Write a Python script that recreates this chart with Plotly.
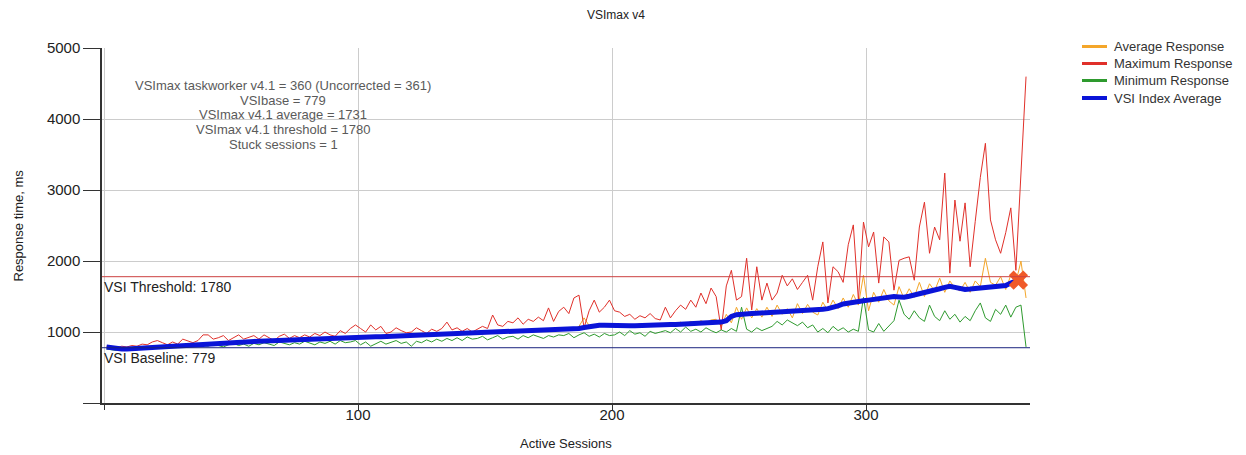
import plotly.graph_objects as go

# ---------------- data ----------------
sessions = list(range(1, 364, 2))  # active sessions, sampled every 2

avg_response = [
    780, 770, 760, 770, 765, 775, 770, 790, 785, 790,
    800, 790, 810, 800, 820, 810, 830, 825, 840, 830,
    845, 850, 840, 860, 855, 865, 860, 870, 860, 875,
    870, 880, 875, 885, 880, 890, 885, 895, 890, 900,
    900, 905, 895, 910, 905, 920, 910, 925, 920, 930,
    925, 935, 930, 940, 935, 945, 940, 950, 945, 955,
    950, 960, 955, 965, 960, 970, 965, 975, 970, 980,
    975, 985, 980, 990, 985, 995, 990, 1000, 995, 1005,
    1000, 1010, 1005, 1015, 1010, 1020, 1015, 1030, 1025, 1040,
    1030, 1050, 1045, 1080, 1200, 1090, 1100, 1080, 1110, 1090,
    1080, 1100, 1070, 1110, 1090, 1120, 1080, 1100, 1095, 1115,
    1100, 1130, 1090, 1140, 1110, 1150, 1120, 1160, 1130, 1170,
    1180, 1080, 1250, 1130, 1350, 1180, 1340, 1200, 1330, 1210,
    1350, 1220, 1380, 1250, 1330, 1200, 1400, 1260, 1390, 1280,
    1240, 1420, 1300, 1450, 1330, 1480, 1350, 1530, 1380, 1800,
    1300, 1560, 1420, 1600, 1440, 1380, 1640, 1470, 1610, 1490,
    1700, 1500, 1680, 1580, 1760, 1560, 1720, 1620, 1580, 1700,
    1560, 1720, 1640, 2040, 1700, 1660, 1780, 1600, 1800, 1700,
    2000, 1480,
]

max_response = [
    800, 790, 780, 800, 790, 810, 800, 830, 820, 860,
    880, 850, 820, 860, 830, 900, 870, 850, 880, 960,
    960, 900, 920, 950, 880, 920, 960, 900, 930, 950,
    900, 960, 920, 880, 940, 970, 910, 950, 920, 960,
    930, 980, 950, 1000, 960, 940, 1020, 980, 1050, 1100,
    1050, 1000, 1100, 1030, 1080, 980, 1000, 1060, 1020, 990,
    1000, 1060, 1020, 980, 1040, 1010, 1050, 1140, 1030, 1060,
    1010, 1050, 1000, 1040, 1080, 1050, 1240, 1100, 1080, 1150,
    1130, 1200, 1110, 1180, 1150, 1210, 1160, 1340, 1150, 1290,
    1350, 1260, 1480, 1520, 1060, 1300, 1450, 1280, 1350, 1450,
    1300, 1280, 1220, 1250, 1180, 1230, 1200, 1260, 1190, 1170,
    1350, 1200, 1300, 1380, 1320, 1450, 1350, 1550, 1400, 1620,
    1500, 1030, 1650, 1870, 1450, 1500, 2040, 1310, 1920, 1450,
    1690, 1450, 1550, 1800, 1650, 1750, 1600, 1700, 1800, 1450,
    1920, 2270, 1410, 1920, 1850, 1700, 2230, 2510, 1450, 2550,
    2200, 2410, 1690, 2340, 2270, 1590, 2010, 2040, 2060, 1730,
    2480, 2830, 2110, 2480, 2300, 3240, 1830, 2860, 2280, 2820,
    1920, 2560, 3180, 3660, 2580, 2300, 2110, 2400, 2750, 1870,
    3250, 4600,
]

min_response = [
    760, 750, 740, 750, 745, 760, 750, 770, 765, 780,
    790, 780, 800, 790, 810, 800, 790, 820, 800, 810,
    800, 830, 810, 790, 820, 840, 810, 830, 800, 840,
    820, 850, 830, 810, 860, 840, 820, 850, 830, 870,
    850, 820, 860, 840, 870, 830, 880, 850, 860, 880,
    820, 860, 800, 840, 870, 830, 850, 880, 840, 860,
    800, 870, 850, 890, 860, 900, 870, 910, 880, 920,
    880, 930, 900, 910, 940, 890, 920, 950, 900, 930,
    940, 900, 950, 920, 960, 930, 910, 950, 930, 960,
    950, 980, 920, 960, 990, 940, 970, 930, 980, 950,
    960, 1000, 950, 1020, 970, 990, 940, 1010, 980, 1000,
    1020, 990, 1050, 1000, 1070, 1010, 1040, 1000, 1060, 1020,
    990, 1030, 1000, 1050, 1010, 1350, 1040, 1000, 1060, 1020,
    1050, 1080, 1150, 1100, 1170, 1130, 1090, 1140, 1060, 1100,
    1000, 1050, 990, 1080, 1020, 1060, 1000, 1040, 1010, 1490,
    1030, 1000, 1120, 1010, 1080, 1160, 1450, 1250, 1180, 1300,
    1200, 1150, 1380, 1220, 1160, 1300, 1180, 1250, 1140, 1220,
    1160, 1300, 1410, 1200, 1150, 1320, 1250, 1380, 1210, 1350,
    1380, 790,
]

vsi_index_avg = [
    790, 775, 765, 760, 760, 765, 770, 775, 780, 785,
    790, 795, 800, 805, 810, 815, 820, 825, 830, 835,
    840, 845, 850, 852, 855, 858, 860, 862, 865, 868,
    870, 872, 875, 877, 880, 882, 885, 887, 890, 892,
    895, 897, 900, 902, 905, 907, 910, 912, 915, 918,
    920, 925, 928, 932, 935, 938, 940, 943, 945, 948,
    950, 953, 955, 958, 960, 962, 965, 967, 970, 972,
    975, 977, 980, 982, 985, 988, 990, 993, 995, 998,
    1000, 1003, 1005, 1008, 1010, 1013, 1015, 1018, 1020, 1025,
    1030, 1035, 1040, 1050, 1065, 1080, 1090, 1095, 1095, 1090,
    1085, 1085, 1085, 1087, 1090, 1090, 1092, 1095, 1097, 1100,
    1102, 1105, 1108, 1110, 1112, 1115, 1118, 1120, 1125, 1130,
    1135, 1140, 1160, 1220, 1245, 1255, 1260, 1262, 1265, 1268,
    1270, 1275, 1278, 1282, 1285, 1290, 1295, 1300, 1305, 1310,
    1315, 1320, 1330, 1345, 1370, 1395, 1410, 1420, 1430, 1440,
    1450, 1460, 1470, 1485, 1495, 1500, 1495, 1490, 1505, 1520,
    1540, 1555, 1570, 1590, 1610, 1630, 1645, 1630, 1615, 1600,
    1605, 1610, 1615, 1620, 1625, 1630, 1640, 1655, 1690, 1720,
    None, None,
]

vsimax_session = 360
vsimax_average = 1731
vsi_threshold = 1780
vsi_baseline = 779

stats_lines = [
    "VSImax taskworker v4.1 = 360 (Uncorrected = 361)",
    "VSIbase = 779",
    "VSImax v4.1 average = 1731",
    "VSImax v4.1 threshold = 1780",
    "Stuck sessions = 1",
]

legend_names = ["Average Response", "Maximum Response", "Minimum Response", "VSI Index Average"]

x_tick_vals = [0, 100, 200, 300]
x_tick_text = ["", "100", "200", "300"]
y_tick_vals = [0, 1000, 2000, 3000, 4000, 5000]
y_tick_text = ["", "1000", "2000", "3000", "4000", "5000"]

# ---------------- styling ----------------
C_AVG = "#F4A62A"
C_MAX = "#E0302A"
C_MIN = "#2E9A2E"
C_VSI = "#0A14D8"
C_THR = "#CC4040"
C_BASE = "#1A237E"
C_MARK = "#F05A28"
FONT = "Liberation Sans, Arial, sans-serif"
TXT = "#222222"

# page has an 8px body margin -> figure drawn offset by 8px
W, H = 1230, 447
ML, MR, MT, MB = 94, 208, 40, 52
PW, PH = W - ML - MR, H - MT - MB


def px_x(xp):  # figure pixel -> paper x
    return (xp - ML) / PW


def px_y(yp):  # figure pixel -> paper y
    return (H - MB - yp) / PH


fig = go.Figure()

series = [
    (legend_names[0], avg_response, C_AVG, 1, 3),
    (legend_names[1], max_response, C_MAX, 1, 3),
    (legend_names[2], min_response, C_MIN, 1, 3),
    (legend_names[3], vsi_index_avg, C_VSI, 5, 4),
]
for name, vals, col, w, lw in series:
    fig.add_trace(go.Scatter(x=sessions, y=vals, mode="lines", name=name,
                             line=dict(color=col, width=w), showlegend=False,
                             connectgaps=False, hoverinfo="skip"))

# VSImax marker
fig.add_trace(go.Scatter(x=[vsimax_session], y=[vsimax_average], mode="markers",
                         marker=dict(symbol="x", size=17, color=C_MARK, line=dict(width=0)),
                         showlegend=False, hoverinfo="skip"))

# manual legend (exact spacing)
leg_y = [38.5, 55.5, 72.5, 90]
for (name, vals, col, w, lw), yy in zip(series, leg_y):
    fig.add_shape(type="line", xref="paper", yref="paper",
                  x0=px_x(1074), x1=px_x(1099), y0=px_y(yy), y1=px_y(yy),
                  line=dict(color=col, width=lw))
    fig.add_annotation(x=px_x(1104), y=px_y(yy), xref="paper", yref="paper",
                       xanchor="left", yanchor="middle", showarrow=False, text=name,
                       font=dict(family=FONT, size=13, color="#333333"))

# threshold / baseline lines
fig.add_hline(y=vsi_threshold, line=dict(color=C_THR, width=1), layer="above")
fig.add_hline(y=vsi_baseline, line=dict(color=C_BASE, width=1), layer="above")

fig.add_annotation(x=0, xref="paper", y=vsi_threshold, yref="y", xanchor="left", yanchor="top",
                   showarrow=False, text=f"VSI Threshold: {vsi_threshold}",
                   font=dict(family=FONT, size=14, color=TXT))
fig.add_annotation(x=0, xref="paper", y=vsi_baseline, yref="y", xanchor="left", yanchor="top",
                   showarrow=False, text=f"VSI Baseline: {vsi_baseline}",
                   font=dict(family=FONT, size=14, color=TXT))

# stats block: white box over gridlines, then one text per line
fig.add_shape(type="rect", xref="paper", yref="paper",
              x0=px_x(132), x1=px_x(424), y0=px_y(140), y1=px_y(70),
              fillcolor="white", line=dict(width=0), layer="between")
stats_y = [77, 92, 107, 121.3, 136]
for line_text, yy in zip(stats_lines, stats_y):
    fig.add_annotation(x=px_x(275), y=px_y(yy), xref="paper", yref="paper",
                       xanchor="center", yanchor="middle", showarrow=False, text=line_text,
                       font=dict(family=FONT, size=13, color="#5A5A5A"))

# axis titles
fig.add_annotation(x=0.5, xref="paper", y=0, yref="paper", yanchor="middle", yshift=-40,
                   showarrow=False, text="Active Sessions",
                   font=dict(family=FONT, size=13, color=TXT))
fig.add_annotation(x=0, xref="paper", y=0.5, yref="paper", xanchor="center", xshift=-84,
                   textangle=-90, showarrow=False, text="Response time, ms",
                   font=dict(family=FONT, size=13, color=TXT))

fig.update_layout(
    width=W, height=H,
    margin=dict(l=ML, r=MR, t=MT, b=MB),
    paper_bgcolor="white", plot_bgcolor="white",
    title=dict(text="VSImax v4", x=608 / W, xanchor="center", y=1 - 7 / H, yanchor="middle",
               font=dict(family=FONT, size=12, color=TXT)),
    font=dict(family=FONT, color=TXT),
    showlegend=False,
    xaxis=dict(range=[-0.79, 364.56], tickvals=x_tick_vals, ticktext=x_tick_text,
               showgrid=True, gridcolor="#CCCCCC", gridwidth=1, zeroline=False,
               showline=True, linecolor="#333333", linewidth=1.5,
               ticks="outside", ticklen=5, tickcolor="#333333", ticklabelstandoff=-8,
               tickfont=dict(family=FONT, size=15, color=TXT)),
    yaxis=dict(range=[0, 5003], tickvals=y_tick_vals, ticktext=y_tick_text,
               showgrid=True, gridcolor="#CCCCCC", gridwidth=1, zeroline=False,
               showline=True, linecolor="#333333", linewidth=1.5,
               ticks="outside", ticklen=17, tickcolor="#333333",
               tickfont=dict(family=FONT, size=15, color=TXT)),
)

fig.write_html("out.html")
